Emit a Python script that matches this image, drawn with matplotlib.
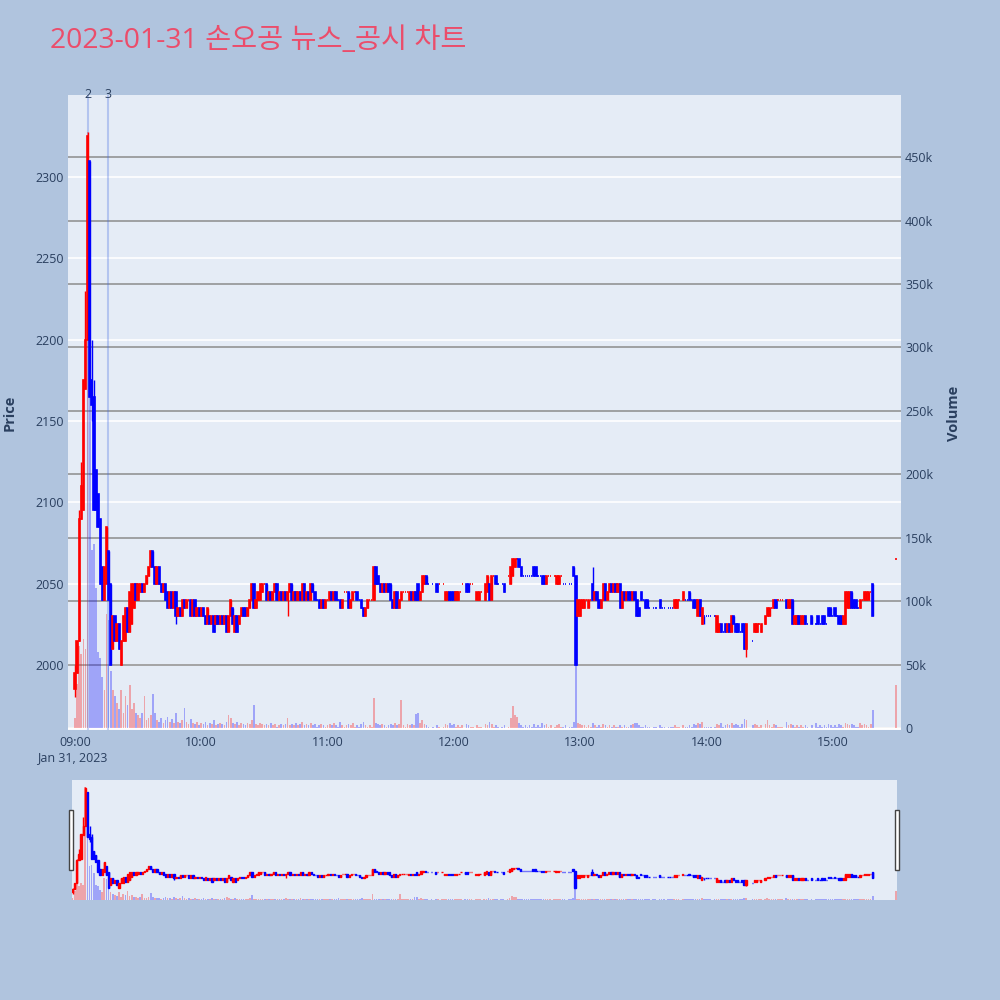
import numpy as np
import pandas as pd
import matplotlib
matplotlib.use("Agg")
import matplotlib.pyplot as plt
import matplotlib.dates as mdates
import matplotlib.transforms as mtransforms
from matplotlib.lines import Line2D
from matplotlib.patches import Rectangle

nan = np.nan

TITLE = "2023-01-31 손오공 뉴스_공시 차트"
SESSION_START = "2023-01-31 09:00"

# 1-minute candles 09:00 .. 15:19 (nan = no trade in that minute)
OPEN = [
    1985, 1995, 2015, 2090, 2095, 2170, 2200, 2310, 2175, 2165,
    2120, 2105, 2090, 2060, 2040, 2050, 2070, 2050, 2010, 2030,
    2015, 2025, 2000, 2015, 2015, 2035, 2020, 2025, 2035, 2050,
    2040, 2045, 2050, 2045, 2050, 2055, 2060, 2070, 2060, 2050,
    2060, 2050, 2045, 2050, 2045, 2035, 2045, 2035, 2045, 2030,
    2035, 2030, 2040, 2035, 2040, 2040, 2030, 2040, 2030, 2035,
    2030, 2035, 2030, 2025, 2030, 2025, 2030, 2025, 2030, 2025,
    2030, 2025, 2030, 2020, 2030, 2035, 2020, 2030, 2025, 2030,
    2035, 2035, 2030, 2035, 2040, 2050, 2035, 2040, 2040, 2045,
    2050, 2050, 2040, 2045, 2040, 2045, 2050, 2040, 2045, 2040,
    2045, 2040, 2045, 2050, 2040, 2045, 2040, 2045, 2040, 2050,
    2040, 2045, 2040, 2050, 2045, 2040, 2040, 2035, 2040, 2035,
    2040, 2040, 2045, 2040, 2045, 2040, 2040, 2035, 2045, 2045,
    2045, 2035, 2040, 2045, 2045, 2040, 2040, 2035, 2030, 2035,
    2040, 2040, 2040, 2060, 2055, 2050, 2045, 2050, 2045, 2050,
    2050, 2040, 2035, 2045, 2035, 2040, 2045, 2045, 2045, 2040,
    2045, 2040, 2045, 2050, 2040, 2045, 2050, 2055, 2050, nan,
    2050, nan, 2050, 2050, nan, 2050, 2040, 2040, 2045, 2045,
    2045, 2040, 2040, 2045, 2050, nan, 2050, 2050, 2050, 2050,
    nan, 2040, 2040, 2045, nan, 2040, 2045, 2050, 2040, 2055,
    2055, 2050, nan, 2050, 2050, nan, 2055, 2050, 2055, 2060,
    2065, 2065, 2060, 2055, 2055, 2055, 2055, 2055, 2060, 2060,
    2055, 2055, 2055, 2055, 2050, 2055, 2055, nan, 2055, 2050,
    2050, 2055, 2050, 2050, nan, 2050, 2050, 2060, 2055, 2030,
    2030, 2035, 2035, 2040, 2035, 2040, 2050, 2040, 2045, 2040,
    2035, 2040, 2050, 2040, 2045, 2050, 2045, 2050, 2045, 2050,
    2035, 2045, 2040, 2045, 2045, 2040, 2045, 2040, 2035, 2045,
    2040, 2040, 2040, 2035, nan, 2035, 2035, nan, 2040, 2035,
    2035, nan, 2035, 2035, 2035, 2035, 2035, 2040, nan, 2040,
    2040, 2040, 2045, 2040, 2040, 2040, 2030, 2040, 2025, 2030,
    2030, 2030, 2030, nan, 2030, 2020, 2020, 2025, 2020, 2025,
    2020, 2025, 2020, 2030, 2025, 2025, 2020, 2025, 2025, 2010,
    nan, nan, 2015, 2020, 2020, 2025, 2020, nan, 2025, 2030,
    2030, 2035, 2035, 2040, 2040, 2040, 2040, nan, 2040, 2035,
    2035, 2040, 2025, 2025, 2030, 2025, 2025, 2030, 2025, nan,
    2030, nan, 2025, 2030, 2025, 2030, 2030, 2025, 2035, 2035,
    2030, 2035, 2030, 2030, 2030, 2025, 2025, 2035, 2035, 2045,
    2040, 2040, 2035, 2035, 2040, 2040, 2040, 2040, 2045, 2050,
]
CLOSE = [
    1995, 2015, 2090, 2110, 2175, 2200, 2325, 2165, 2160, 2095,
    2095, 2085, 2050, 2040, 2060, 2085, 2040, 2000, 2030, 2015,
    2025, 2010, 2015, 2030, 2035, 2020, 2045, 2050, 2050, 2040,
    2050, 2050, 2045, 2050, 2055, 2060, 2070, 2060, 2050, 2060,
    2050, 2045, 2050, 2040, 2035, 2045, 2035, 2045, 2030, 2035,
    2030, 2040, 2035, 2040, 2040, 2030, 2040, 2030, 2035, 2030,
    2035, 2030, 2025, 2035, 2025, 2030, 2020, 2030, 2025, 2030,
    2025, 2030, 2020, 2030, 2040, 2025, 2030, 2020, 2030, 2035,
    2030, 2030, 2035, 2040, 2050, 2035, 2040, 2045, 2050, 2050,
    2050, 2040, 2045, 2040, 2045, 2050, 2040, 2045, 2040, 2045,
    2040, 2045, 2050, 2040, 2045, 2040, 2045, 2040, 2050, 2040,
    2045, 2040, 2050, 2045, 2040, 2040, 2035, 2040, 2035, 2040,
    2040, 2045, 2040, 2045, 2040, 2040, 2035, 2040, 2045, 2045,
    2035, 2040, 2045, 2045, 2040, 2040, 2035, 2030, 2035, 2040,
    2040, 2040, 2060, 2050, 2050, 2045, 2050, 2045, 2050, 2045,
    2040, 2035, 2045, 2035, 2040, 2045, 2045, 2045, 2045, 2045,
    2040, 2045, 2040, 2040, 2045, 2055, 2055, 2050, 2050, nan,
    2050, nan, 2045, 2050, nan, 2050, 2045, 2045, 2040, 2040,
    2040, 2045, 2045, 2045, 2050, nan, 2045, 2045, 2050, 2050,
    nan, 2045, 2045, 2045, nan, 2050, 2055, 2040, 2055, 2055,
    2050, 2050, nan, 2050, 2045, nan, 2055, 2060, 2065, 2065,
    2065, 2060, 2055, 2055, 2055, 2055, 2055, 2055, 2055, 2055,
    2055, 2055, 2050, 2050, 2055, 2055, 2055, nan, 2055, 2055,
    2055, 2055, 2050, 2050, nan, 2050, 2050, 2055, 2000, 2040,
    2040, 2040, 2040, 2040, 2040, 2040, 2040, 2045, 2040, 2035,
    2040, 2050, 2040, 2045, 2050, 2045, 2050, 2045, 2050, 2035,
    2045, 2040, 2045, 2040, 2040, 2045, 2040, 2030, 2030, 2040,
    2040, 2035, 2035, 2035, nan, 2035, 2035, nan, 2035, 2035,
    2035, nan, 2035, 2035, 2035, 2040, 2040, 2040, nan, 2045,
    2040, 2040, 2040, 2040, 2035, 2035, 2040, 2030, 2035, 2030,
    2030, 2030, 2030, nan, 2030, 2030, 2025, 2020, 2020, 2020,
    2025, 2020, 2030, 2025, 2020, 2020, 2020, 2020, 2010, 2025,
    nan, nan, 2015, 2025, 2025, 2025, 2025, nan, 2030, 2035,
    2035, 2035, 2040, 2035, 2040, 2040, 2040, nan, 2035, 2040,
    2040, 2025, 2030, 2030, 2025, 2030, 2030, 2025, 2025, nan,
    2025, nan, 2025, 2025, 2025, 2025, 2025, 2025, 2030, 2030,
    2030, 2030, 2030, 2025, 2025, 2030, 2045, 2045, 2045, 2035,
    2035, 2035, 2035, 2040, 2040, 2045, 2045, 2045, 2045, 2030,
]
# traded volume per minute, thousands of shares
VOLUME_K = [
    8, 35, 65, 58, 70, 62, 470, 400, 140, 145,
    110, 60, 55, 40, 30, 90, 85, 45, 30, 25,
    20, 15, 30, 12, 25, 18, 34, 15, 20, 12,
    10, 8, 12, 25, 6, 8, 10, 27, 12, 6,
    5, 8, 4, 6, 9, 5, 7, 4, 12, 5,
    4, 6, 16, 5, 3, 7, 4, 3, 5, 2,
    4, 3, 5, 2, 4, 3, 6, 2, 3, 4,
    3, 2, 5, 10, 8, 4, 3, 5, 2, 4,
    3, 2, 4, 3, 6, 18, 3, 2, 4, 3,
    2, 3, 2, 4, 2, 3, 1, 2, 3, 2,
    3, 8, 2, 3, 2, 4, 2, 3, 5, 2,
    3, 2, 4, 2, 3, 1, 2, 3, 2, 1,
    2, 3, 2, 4, 2, 1, 5, 2, 1, 2,
    3, 2, 4, 1, 2, 1, 3, 5, 2, 1,
    2, 1, 24, 4, 3, 2, 3, 2, 1, 2,
    3, 2, 4, 2, 3, 22, 2, 1, 3, 2,
    3, 2, 11, 12, 4, 6, 3, 2, 1, 0,
    1, 0, 2, 1, 0, 1, 3, 2, 4, 2,
    3, 1, 2, 1, 2, 0, 3, 2, 1, 1,
    0, 2, 1, 1, 0, 3, 2, 5, 3, 1,
    2, 1, 0, 1, 2, 0, 1, 8, 17, 10,
    9, 4, 2, 1, 2, 1, 2, 1, 3, 1,
    2, 1, 4, 2, 3, 1, 2, 0, 1, 2,
    3, 1, 1, 2, 0, 1, 1, 5, 50, 4,
    3, 2, 2, 1, 2, 1, 4, 2, 1, 2,
    1, 3, 2, 1, 2, 1, 2, 1, 1, 2,
    1, 2, 1, 1, 2, 3, 4, 4, 2, 1,
    1, 2, 1, 1, 0, 1, 1, 0, 2, 1,
    1, 0, 1, 1, 1, 2, 1, 1, 0, 2,
    1, 1, 2, 1, 3, 2, 4, 3, 5, 1,
    1, 1, 1, 0, 1, 3, 2, 4, 1, 2,
    3, 2, 4, 2, 3, 2, 1, 3, 7, 6,
    0, 0, 2, 3, 2, 1, 2, 0, 3, 6,
    2, 1, 3, 2, 1, 1, 1, 0, 5, 2,
    3, 2, 1, 2, 1, 2, 1, 2, 1, 0,
    2, 0, 4, 1, 2, 1, 2, 1, 3, 2,
    1, 2, 1, 3, 2, 1, 4, 3, 2, 3,
    2, 1, 1, 4, 2, 3, 2, 1, 3, 14,
]
# wicks that reach beyond the candle body (minute index -> price)
HIGH_WICKS = {0: 2000, 2: 2095, 3: 2125, 5: 2230, 6: 2328, 8: 2200, 9: 2175,
              246: 2060}
LOW_WICKS = {0: 1980, 8: 2150, 22: 2000, 48: 2025, 101: 2030, 239: 2030,
             299: 2025, 319: 2005, 379: 2030}

# closing auction print
AUCTION_TIME = "2023-01-31 15:30"
AUCTION_PRICE = 2065
AUCTION_VOLUME_K = 34

NEWS_TIMES = ["2023-01-31 09:06:10", "2023-01-31 09:15:40"]
NEWS_LABELS = ["2", "3"]

PRICE_TICKS = [2000, 2050, 2100, 2150, 2200, 2250, 2300]
VOLUME_TICKS_K = [0, 50, 100, 150, 200, 250, 300, 350, 400, 450]

RED = "#ff0000"
BLUE = "#0000ff"
PAPER = "#b0c4de"
PLOT_BG = "#e5ecf6"
FONT_COLOR = "#2a3f5f"
FONT = ["Open Sans", "Noto Sans CJK KR", "DejaVu Sans"]

plt.rcParams["font.family"] = FONT

# ---- assemble the table ----
times = list(pd.date_range(SESSION_START, periods=len(OPEN), freq="min"))
times.append(pd.Timestamp(AUCTION_TIME))
x = mdates.date2num(pd.DatetimeIndex(times).to_pydatetime())
o = np.array(OPEN + [AUCTION_PRICE], dtype=float)
c = np.array(CLOSE + [AUCTION_PRICE], dtype=float)
vol = np.array(VOLUME_K + [AUCTION_VOLUME_K], dtype=float) * 1000
h = np.fmax(o, c)
l = np.fmin(o, c)
for k, v in HIGH_WICKS.items():
    h[k] = v
for k, v in LOW_WICKS.items():
    l[k] = v

# plotly rule: flat candle takes its direction from the previous close
inc = np.zeros(len(o), dtype=bool)
prev_c, prev_dir = nan, True
for i in range(len(o)):
    if np.isnan(o[i]):
        continue
    if c[i] > o[i]:
        d = True
    elif c[i] < o[i]:
        d = False
    elif not np.isnan(prev_c) and c[i] != prev_c:
        d = c[i] > prev_c
    else:
        d = prev_dir
    inc[i] = d
    prev_c, prev_dir = c[i], d
colors = np.where(inc, RED, BLUE)
ok = ~np.isnan(o)

MIN = 1 / 1440.0


def draw_candles(ax, body_w, lw):
    ax.vlines(x[ok], l[ok], h[ok], colors=colors[ok], lw=1.0, zorder=3)
    ax.bar(x[ok], (c - o)[ok], bottom=o[ok], width=body_w * MIN,
           color=colors[ok], edgecolor=colors[ok], linewidth=lw, zorder=4)


def draw_volume(ax):
    ax.bar(x, vol, width=0.8 * MIN, color=colors, alpha=0.3, linewidth=0, zorder=2)


def strip(ax):
    for s in ax.spines.values():
        s.set_visible(False)


fig = plt.figure(figsize=(10, 10), dpi=100, facecolor=PAPER)

x_lo = mdates.date2num(pd.Timestamp("2023-01-31 08:56:42").to_pydatetime())
x_hi = mdates.date2num(pd.Timestamp("2023-01-31 15:32:24").to_pydatetime())
price_lim = (1960, 2350.5)
vol_lim = (-1600, 499000)

# ---- main panel ----
ax_vol = fig.add_axes([0.068, 0.27, 0.833, 0.635], facecolor=PLOT_BG)
ax_px = ax_vol.twinx()
strip(ax_vol)
strip(ax_px)

draw_volume(ax_vol)
draw_candles(ax_px, 0.6, 1.2)

ax_vol.set_xlim(x_lo, x_hi)
ax_vol.set_ylim(*vol_lim)
ax_px.set_ylim(*price_lim)

# price grid (white) under the volume grid (grey)
blend = mtransforms.blended_transform_factory(ax_vol.transAxes, ax_px.transData)
for p in PRICE_TICKS:
    ax_vol.add_line(Line2D([0, 1], [p, p], transform=blend, color="white",
                           lw=1.2, zorder=0.3))
ax_vol.set_yticks([v * 1000 for v in VOLUME_TICKS_K])
ax_vol.set_yticklabels(["0" if v == 0 else f"{v}k" for v in VOLUME_TICKS_K])
ax_vol.set_axisbelow(True)
ax_vol.grid(axis="y", color="#8c8c8c", lw=1.1)
ax_vol.axhline(0, color="white", lw=2, zorder=0.6)
ax_vol.yaxis.tick_right()
ax_vol.tick_params(axis="y", length=0, pad=3, labelsize=9, labelcolor=FONT_COLOR)

ax_px.yaxis.tick_left()
ax_px.set_yticks(PRICE_TICKS)
ax_px.set_yticklabels([str(p) for p in PRICE_TICKS])
ax_px.tick_params(axis="y", length=0, pad=3, labelsize=9, labelcolor=FONT_COLOR)

ax_vol.xaxis.set_major_locator(mdates.HourLocator())
ax_vol.xaxis.set_major_formatter(mdates.DateFormatter("%H:%M"))
ax_vol.tick_params(axis="x", length=0, pad=4, labelsize=9, labelcolor=FONT_COLOR)

# news markers
news_x = mdates.date2num(pd.DatetimeIndex(NEWS_TIMES).to_pydatetime())
top = mtransforms.blended_transform_factory(ax_px.transData, ax_px.transAxes)
for nx, lab in zip(news_x, NEWS_LABELS):
    ax_vol.axvline(nx, color="#4169e1", alpha=0.3, lw=1.5, zorder=2.5)
    ax_px.text(nx, 1.0, lab, transform=top, ha="center", va="center",
               fontsize=9, color=FONT_COLOR)

fig.text(0.072, 0.242, "Jan 31, 2023", ha="center", va="center",
         fontsize=9, color=FONT_COLOR)
fig.text(0.010, 0.587, "Price", rotation=90, ha="center", va="center",
         fontsize=10.5, fontweight="bold", color=FONT_COLOR)
fig.text(0.954, 0.587, "Volume", rotation=90, ha="center", va="center",
         fontsize=10.5, fontweight="bold", color=FONT_COLOR)
fig.text(0.05, 0.959, TITLE, ha="left", va="center", fontsize=20.4,
         color="#eb4d6b")

# ---- range slider ----
ax_rs = fig.add_axes([0.072, 0.10, 0.825, 0.12], facecolor=PLOT_BG)
ax_rs_px = ax_rs.twinx()
for a in (ax_rs, ax_rs_px):
    strip(a)
    a.set_xticks([])
    a.set_yticks([])
draw_volume(ax_rs)
draw_candles(ax_rs_px, 0.6, 1.0)
ax_rs.set_xlim(x[0] - 0.3 * MIN, x[-1] + 0.5 * MIN)
ax_rs.set_ylim(*vol_lim)
ax_rs_px.set_ylim(*price_lim)

for hx in (0.069, 0.895):
    fig.add_artist(Rectangle((hx, 0.13), 0.004, 0.06, transform=fig.transFigure,
                             facecolor="white", edgecolor="#444444", lw=1))

fig.savefig("out.png", dpi=100, facecolor=PAPER)
